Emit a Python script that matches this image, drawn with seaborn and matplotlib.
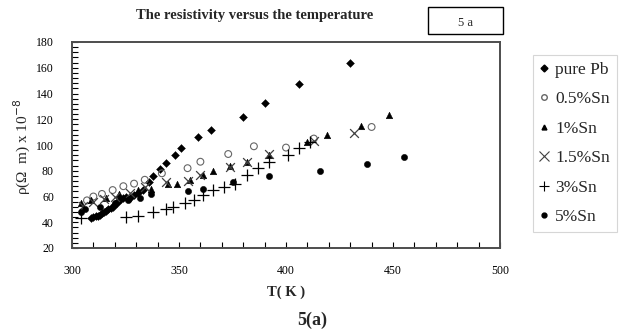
import matplotlib
matplotlib.use("Agg")
import matplotlib.pyplot as plt
import seaborn as sns
import pandas as pd
from matplotlib.ticker import MultipleLocator
from matplotlib.lines import Line2D
from matplotlib.patches import Rectangle

# data (T in K, rho in 1e-8 ohm m)
pb_T = [309, 310, 311, 312, 313, 314, 315, 316, 317, 318, 319, 320, 321, 322, 323, 324, 325,
        327, 329, 331, 333, 336, 338, 341, 344, 348, 351, 359, 365, 380, 390, 406, 430]
pb_r = [43, 44, 44.5, 45, 46, 47, 48, 49, 50, 51, 52, 54, 55, 57, 58, 59, 60,
        59, 61, 63, 65, 71, 76, 81, 86, 92, 98, 106, 112, 122, 133, 147, 164]
sn05_T = [307, 310, 314, 319, 324, 329, 334, 342, 354, 360, 373, 385, 400, 413, 440]
sn05_r = [57, 60, 62, 65, 68, 70, 73, 78, 82, 87, 93, 99, 98, 105, 114]
sn1_T = [304, 309, 316, 322, 331, 337, 345, 349, 355, 361, 366, 374, 382, 392, 410, 419, 435, 448]
sn1_r = [55, 57, 59, 62, 65, 66, 70, 70, 73, 77, 80, 84, 87, 92, 102, 108, 115, 123]
sn15_T = [305, 310, 315, 320, 327, 334, 344, 354, 360, 374, 382, 392, 413, 432]
sn15_r = [53, 56, 58, 60, 63, 67, 71, 72, 77, 83, 87, 93, 103, 109]
sn3_T = [304, 325, 331, 338, 344, 347, 353, 357, 361, 366, 371, 376, 382, 387, 392, 401, 406, 411]
sn3_r = [43, 44, 45, 48, 50, 52, 55, 57, 61, 65, 67, 70, 77, 82, 87, 92, 98, 102]
sn5_T = [304, 306, 313, 320, 326, 332, 337, 354, 361, 375, 392, 416, 438, 455]
sn5_r = [48, 50, 52, 55, 57, 59, 62, 64, 66, 71, 76, 80, 85, 91]

labels = ["pure Pb", "0.5%Sn", "1%Sn", "1.5%Sn", "3%Sn", "5%Sn"]
x_ticks = [300, 350, 400, 450, 500]
y_ticks = [20, 40, 60, 80, 100, 120, 140, 160, 180]

series = [(pb_T, pb_r), (sn05_T, sn05_r), (sn1_T, sn1_r),
          (sn15_T, sn15_r), (sn3_T, sn3_r), (sn5_T, sn5_r)]
rows = []
for lab, (t, r) in zip(labels, series):
    for a, b in zip(t, r):
        rows.append({"T": a, "rho": b, "alloy": lab})
df = pd.DataFrame(rows)

sns.set_style("white")
plt.rcParams["font.family"] = ["Liberation Serif", "DejaVu Serif"]

fig = plt.figure(figsize=(6.21, 3.35), dpi=100)
ax = fig.add_axes([72 / 621, 1 - 248 / 335, 428 / 621, 206 / 335])

style = {
    "pure Pb": dict(marker="D", s=16, color="black", edgecolor="black"),
    "0.5%Sn": dict(marker="o", s=24, facecolor="none", edgecolor="0.4", linewidth=0.8),
    "1%Sn": dict(marker="^", s=22, color="black", edgecolor="black"),
    "1.5%Sn": dict(marker="x", s=40, color="0.25", linewidth=0.9),
    "3%Sn": dict(marker="+", s=80, color="black", linewidth=0.9),
    "5%Sn": dict(marker="o", s=20, color="black", edgecolor="black"),
}
for lab in labels:
    d = df[df["alloy"] == lab]
    sns.scatterplot(data=d, x="T", y="rho", ax=ax, legend=False, **style[lab])

ax.set_xlim(300, 500)
ax.set_ylim(20, 180)
ax.set_xticks(x_ticks)
ax.set_yticks(y_ticks)
ax.xaxis.set_minor_locator(MultipleLocator(10))
ax.yaxis.set_minor_locator(MultipleLocator(4))
ax.tick_params(axis="both", which="both", direction="in", length=4, width=0.8,
               colors="black", labelsize=8.5)
ax.tick_params(axis="x", which="both", top=False, bottom=True, pad=12)
ax.tick_params(axis="y", which="both", right=False, left=True, pad=13)
for sp in ax.spines.values():
    sp.set_color("0.3")
    sp.set_linewidth(1.4)

ax.set_xlabel("T( K )", fontsize=10.5, fontweight="bold")
ax.xaxis.set_label_coords(0.5, -0.18)
ax.set_ylabel(r"ρ(Ω  m) x 10$^{-8}$", fontsize=11)
ax.yaxis.set_label_coords(-0.092, 0.49)

fig.text(255 / 621, 1 - 15 / 335, "The resistivity versus the temperature",
         ha="center", va="center", fontsize=10.5, fontweight="bold")
fig.text(312 / 621, 1 - 320 / 335, "5(a)", ha="center", va="center",
         fontsize=13, fontweight="bold")

fig.patches.append(Rectangle((428 / 621, 1 - 34 / 335), 75 / 621, 27 / 335,
                             transform=fig.transFigure, fill=False,
                             edgecolor="black", linewidth=1.0))
fig.text(465 / 621, 1 - 23 / 335, "5 a", ha="center", va="center", fontsize=9)

handles = []
for lab in labels:
    st = style[lab]
    if lab == "0.5%Sn":
        h = Line2D([], [], linestyle="none", marker="o", markersize=4,
                   markerfacecolor="none", markeredgecolor="0.4")
    elif lab in ("1.5%Sn", "3%Sn"):
        h = Line2D([], [], linestyle="none", marker=st["marker"], markersize=7,
                   color="0.25" if lab == "1.5%Sn" else "black", markeredgewidth=0.8)
    else:
        h = Line2D([], [], linestyle="none", marker=st["marker"], markersize=3.5,
                   color="black")
    handles.append(h)
leg = ax.legend(handles, labels, loc="upper left",
                bbox_to_anchor=(524 / 621, 1 - 46 / 335), bbox_transform=fig.transFigure,
                fontsize=12.5, labelspacing=0.77, handlelength=0.5, handletextpad=0.4,
                borderpad=0.4, fancybox=False, frameon=True)
leg.get_frame().set_edgecolor("0.8")
leg.get_frame().set_linewidth(0.8)

fig.savefig("out.png", dpi=100)
